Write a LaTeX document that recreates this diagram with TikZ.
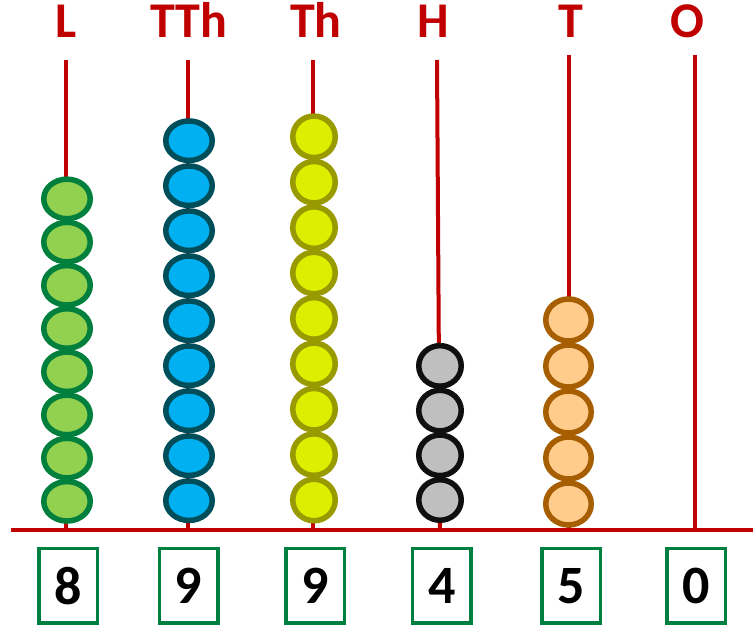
\documentclass[tikz,border=0pt]{standalone}
\usepackage{fontspec}
\setmainfont{Carlito}
\usetikzlibrary{positioning,shapes.geometric}
\definecolor{rodred}{RGB}{192, 0, 0}
\definecolor{boxgreen}{RGB}{0, 128, 64}
\definecolor{lfill}{RGB}{146, 208, 80}
\definecolor{ldraw}{RGB}{0, 128, 60}
\definecolor{tthfill}{RGB}{0, 176, 240}
\definecolor{tthdraw}{RGB}{0, 78, 90}
\definecolor{thfill}{RGB}{221, 238, 0}
\definecolor{thdraw}{RGB}{153, 153, 0}
\definecolor{hfill}{RGB}{191, 191, 191}
\definecolor{hdraw}{RGB}{15, 15, 15}
\definecolor{tfill}{RGB}{255, 204, 140}
\definecolor{tdraw}{RGB}{166, 94, 0}
\tikzstyle{rod}=[rodred, line width=4pt]
\tikzstyle{title}=[text=rodred, anchor=base, font=\fontsize{50}{50}\selectfont\bfseries]
\tikzstyle{digitbox}=[draw=boxgreen, line width=3.5pt, minimum width=58.5pt, minimum height=74.5pt, inner sep=0pt, font=\fontsize{54}{54}\selectfont\bfseries]
\tikzstyle{bead}=[ellipse, line width=5.5pt, inner sep=0pt]

\begin{document}
\begin{tikzpicture}[x=1pt, y=-1pt]
      \useasboundingbox (0,0) rectangle (753,626);

      % column titles
      \node (tL) at (66,38) [title] {L};
      \node (tTTh) at (188.5,38) [title] {TTh};
      \node (tTh) at (316,38) [title] {Th};
      \node (tH) at (433,38) [title] {H};
      \node (tT) at (570.5,38) [title] {T};
      \node (tO) at (687,38) [title] {O};

      % rods
      \coordinate (baseleft) at (11,530);
      \coordinate (baseright) at (753,530);
      \coordinate (Ltop) at (66,60);
      \coordinate (Lbot) at (66,530);
      \coordinate (TThtop) at (188,60);
      \coordinate (TThbot) at (188,530);
      \coordinate (Thtop) at (313,60);
      \coordinate (Thbot) at (313,530);
      \coordinate (Htop) at (437,60);
      \coordinate (Hbot) at (440,530);
      \coordinate (Ttop) at (569,55);
      \coordinate (Tbot) at (569,530);
      \coordinate (Otop) at (695,55);
      \coordinate (Obot) at (695,530);

      \draw[rod] (Ltop) -- (Lbot);
      \draw[rod] (TThtop) -- (TThbot);
      \draw[rod] (Thtop) -- (Thbot);
      \draw[rod] (Htop) -- (Hbot);
      \draw[rod] (Ttop) -- (Tbot);
      \draw[rod] (Otop) -- (Obot);
      \draw[rod] (baseleft) -- (baseright);

      % beads
      \foreach \i in {1,...,8}
        \node (L\i) at (67,{501.3-(\i-1)*43.2}) [bead, draw=ldraw, fill=lfill, minimum width=46.5pt, minimum height=39.5pt] {};
      \foreach \i in {1,...,9}
        \node (TTh\i) at (189,{500.7-(\i-1)*45}) [bead, draw=tthdraw, fill=tthfill, minimum width=46.5pt, minimum height=39.5pt] {};
      \foreach \i in {1,...,9}
        \node (Th\i) at (314,{500-(\i-1)*45.4}) [bead, draw=thdraw, fill=thfill, minimum width=42.5pt, minimum height=41.5pt] {};
      \foreach \i in {1,...,4}
        \node (H\i) at (440,{500-(\i-1)*44.7}) [bead, draw=hdraw, fill=hfill, minimum width=42.5pt, minimum height=40.5pt] {};
      \foreach \i in {1,...,5}
        \node (T\i) at (568.5,{504-(\i-1)*46}) [bead, draw=tdraw, fill=tfill, minimum width=45.5pt, minimum height=42pt] {};

      % place value digits
      \node (dL) at (68,585.8) [digitbox] {8};
      \node (dTTh) at (188.5,585.8) [digitbox] {9};
      \node (dTh) at (315,585.8) [digitbox] {9};
      \node (dH) at (441.7,585.8) [digitbox] {4};
      \node (dT) at (571,585.8) [digitbox] {5};
      \node (dO) at (696,585.8) [digitbox] {0};
\end{tikzpicture}
\end{document}
